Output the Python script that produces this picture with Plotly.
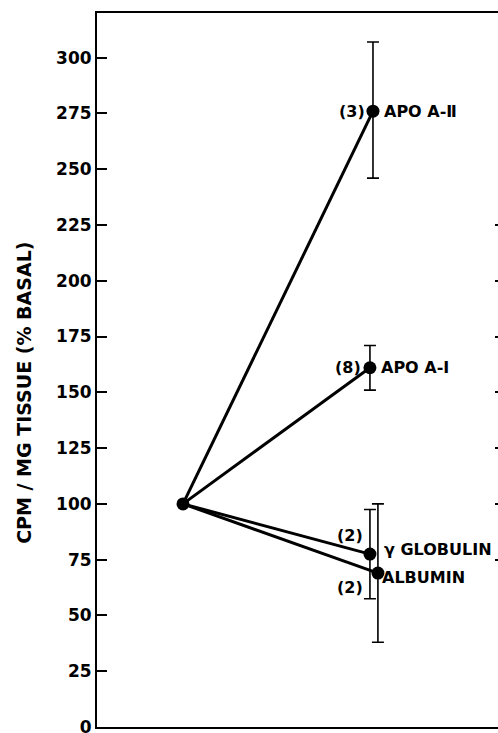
import plotly.graph_objects as go

# Data
proteins = ["APO A-Ⅱ", "APO A-Ⅰ", "γ GLOBULIN", "ALBUMIN"]
x_pos = [1.0, 0.984, 0.984, 1.026]
values = [276, 161, 77.5, 69]
err_plus = [31, 10, 20, 31]
err_minus = [30, 10, 20, 31]
n_labels = ["(3)", "(8)", "(2)", "(2)"]
basal_x = 0
basal_y = 100
y_ticks = [0, 25, 50, 75, 100, 125, 150, 175, 200, 225, 250, 275, 300]
right_ticks = [75, 100, 125, 150, 175, 200, 225]
y_title = "CPM / MG TISSUE (% BASAL)"

FONT = "DejaVu Sans"
fig = go.Figure()

for xp, v in zip(x_pos, values):
    fig.add_trace(go.Scatter(x=[basal_x, xp], y=[basal_y, v], mode="lines",
                             line=dict(color="black", width=3), showlegend=False))

fig.add_trace(go.Scatter(x=x_pos, y=values, mode="markers",
                         marker=dict(color="black", size=13),
                         error_y=dict(type="data", array=err_plus, arrayminus=err_minus,
                                      color="black", thickness=1.6, width=6),
                         showlegend=False))
fig.add_trace(go.Scatter(x=[basal_x], y=[basal_y], mode="markers",
                         marker=dict(color="black", size=13), showlegend=False))
# right mirrored tick stubs
fig.add_trace(go.Scatter(x=[None], y=[None], yaxis="y2", showlegend=False))

afont = dict(family=FONT, size=16, color="black", weight="bold")
# name labels (right of points)
name_shift = [(9, 0), (9, 0), (12, 5), (2, -4)]
for xp, v, name, (dx, dy) in zip(x_pos, values, proteins, name_shift):
    fig.add_annotation(x=xp, y=v, text=name, showarrow=False, xanchor="left",
                       xshift=dx, yshift=dy, font=afont)
# n labels (left of points)
n_shift = [(-6, 0), (-7, 0), (-5, 19), (-13, -14)]
for xp, v, nl, (dx, dy) in zip(x_pos, values, n_labels, n_shift):
    fig.add_annotation(x=xp, y=v, text=nl, showarrow=False, xanchor="right",
                       xshift=dx, yshift=dy, font=afont)

# y-axis title
fig.add_annotation(xref="paper", yref="paper", x=0, y=0.468, xshift=-73,
                   text=y_title, textangle=-90, showarrow=False,
                   xanchor="center", yanchor="middle",
                   font=dict(family=FONT, size=19, color="black", weight="bold"))

fig.update_layout(
    width=498, height=733,
    margin=dict(l=97, r=0, t=13, b=6, autoexpand=False),
    paper_bgcolor="white", plot_bgcolor="white",
    font=dict(family=FONT, color="black"),
    xaxis=dict(range=[-0.4526, 1.658], showticklabels=False, ticks="",
               showgrid=False, zeroline=False, showline=True, linecolor="black",
               linewidth=2, mirror=True, automargin=False),
    yaxis=dict(range=[0, 320], tickvals=y_ticks, ticks="inside", ticklen=10,
               tickwidth=1.5, tickcolor="black", showgrid=False, zeroline=False,
               showline=True, linecolor="black", linewidth=2, automargin=False,
               ticklabeloverflow="allow",
               tickfont=dict(family=FONT, size=17, color="black", weight="bold")),
    yaxis2=dict(range=[0, 320], overlaying="y", side="right", tickvals=right_ticks,
                ticks="inside", ticklen=3, tickwidth=1.5, tickcolor="black",
                showticklabels=False, showgrid=False, zeroline=False, showline=False,
                automargin=False),
)

fig.write_html("out.html", config={"displayModeBar": False})
with open("out.html", encoding="utf-8") as f:
    html = f.read()
html = html.replace("<body>", '<body style="margin:0;overflow:hidden">', 1)
with open("out.html", "w", encoding="utf-8") as f:
    f.write(html)
